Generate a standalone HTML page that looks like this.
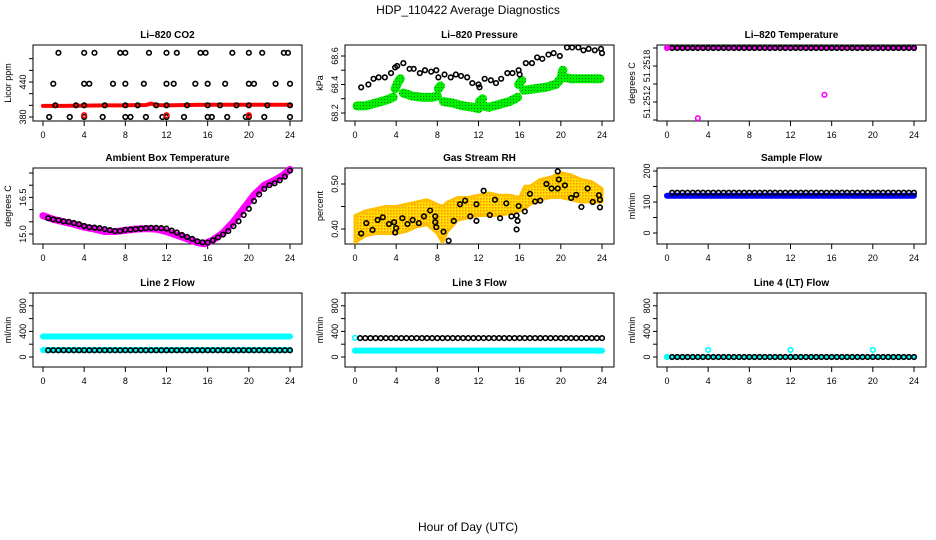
<!DOCTYPE html>
<html><head><meta charset="utf-8">
<style>
body{margin:0;background:#fff;}
svg{display:block;font-family:"Liberation Sans",sans-serif;}
</style></head>
<body>
<svg id="chart" width="936" height="540" viewBox="0 0 936 540">
<defs>
<pattern id="rhpat" width="3" height="3" patternUnits="userSpaceOnUse"><rect width="3" height="3" fill="#ffe000"/><rect width="1.5" height="1.5" fill="#ff8c00"/></pattern>
<pattern id="grpat" width="3" height="3" patternUnits="userSpaceOnUse"><rect width="3" height="3" fill="#00ee00"/><rect width="1" height="1" fill="#008000"/></pattern>
</defs>
<text x="468" y="14" text-anchor="middle" font-size="12">HDP_110422  Average Diagnostics</text>
<text x="468" y="531" text-anchor="middle" font-size="12">Hour of Day (UTC)</text>
</svg>
<script>
// ---------- data ----------
const halfHours = [];
for (let i = 1; i <= 48; i++) halfHours.push(i * 0.5);
const xTicks = [0,4,8,12,16,20,24];

const co2Hours = [1.5,4,5,7.5,8,10.3,12,13,15.3,15.8,18.4,20,21.3,23.4,23.8, 1,4,4.5,6.8,8,9.8,12,12.7,14.8,16,17.7,20,20.5,22.6,24, 1.2,3.2,4,6,8,9.2,11,12,14,16,17.2,18.8,20,21.8,24, 0.6,2.6,4,5.8,8,8.5,10,11.6,12,13.7,16,16.4,17.9,19.7,20,21.5,24];
const co2Values = [490,490,490,490,490,490,490,490,490,490,490,490,490,490,490, 437,437,437,437,437,437,437,437,437,437,437,437,437,437,437, 400,400,400,400,400,400,400,400,400,400,400,400,400,400,400, 380,380,380,380,380,380,380,380,380,380,380,380,380,380,380,380,380];
const co2RedHours = [0,2,4,6,8,10,10.5,11,12,14,16,18,20,22,24];
const co2RedValues = [399,399,399.5,400,400,400.5,403,400.5,400,400.5,401,401,401,401,401];
const co2RedPtHours = [4,12,20];
const co2RedPtValues = [383,383,383];

const presHours = [0.6,1.3,1.8,2.3,2.9,3.5,3.9,4.1,4.7,5.3,5.7,6.3,6.8,7.4,7.9,8.1,8.7,9.3,9.8,10.3,10.9,11.4,12,12.1,12.6,13.2,13.7,14.2,14.8,15.3,15.9,16,16.6,17.2,17.7,18.2,18.8,19.3,19.9,20.6,21.1,21.7,22.2,22.7,23.3,23.9,24];
const presValues = [68.38,68.40,68.44,68.45,68.45,68.48,68.52,68.53,68.55,68.51,68.51,68.48,68.50,68.49,68.50,68.45,68.47,68.45,68.47,68.46,68.45,68.41,68.40,68.38,68.44,68.43,68.41,68.44,68.48,68.48,68.50,68.47,68.55,68.55,68.59,68.58,68.61,68.62,68.60,68.66,68.66,68.66,68.64,68.65,68.64,68.65,68.62];
const presGreenHours = [0.2,1,2,3,3.7,null,3.9,4.2,4.4,null,4.7,5.5,6.5,7.5,8,null,8.1,8.3,null,8.6,9.5,10.5,11.5,12,null,12.1,12.4,null,12.5,13,14,15,15.8,null,15.9,16.2,null,16.4,17.5,18.5,19.5,20,20.2,null,20.4,21,22,23,23.8];
const presGreenValues = [68.25,68.25,68.27,68.29,68.31,null,68.37,68.42,68.44,null,68.34,68.32,68.31,68.31,68.32,null,68.37,68.39,null,68.28,68.27,68.25,68.24,68.23,null,68.28,68.30,null,68.25,68.24,68.26,68.28,68.31,null,68.40,68.43,null,68.36,68.37,68.38,68.40,68.44,68.50,null,68.45,68.44,68.44,68.44,68.44];

const tempBlackValue = 51.2518;
const tempMagentaHours = [0,24];
const tempMagentaValues = [51.2518,51.2518];
const tempOutlierHours = [3,15.3];
const tempOutlierValues = [51.25102,51.25128];

const boxHours = [0,1,2,3,4,5,6,7,8,9,10,11,12,13,14,15,15.7,16.5,17.5,18.5,19.5,20.5,21.5,22.5,23.3,24];
const boxValues = [15.75,15.6,15.5,15.4,15.28,15.2,15.1,15.1,15.15,15.2,15.22,15.2,15.1,14.95,14.8,14.65,14.6,14.75,15.05,15.5,16.05,16.6,17.0,17.2,17.4,17.65];
const boxBlack = [15.65,15.6,15.57,15.52,15.5,15.45,15.4,15.33,15.28,15.26,15.24,15.2,15.16,15.12,15.12,15.17,15.18,15.2,15.22,15.24,15.25,15.25,15.24,15.22,15.14,15.06,14.96,14.88,14.8,14.7,14.66,14.65,14.74,14.86,14.98,15.12,15.32,15.52,15.78,16.03,16.35,16.62,16.85,17.0,17.08,17.2,17.35,17.6];

const rhBandHours = [0,1,2,3,4,5,6,7,8,8.5,9,10,11,12,13,14,15,16,16.5,17,18,19,20,21,22,23,24];
const rhBandLow = [0.37,0.385,0.39,0.39,0.39,0.395,0.405,0.41,0.39,0.37,0.395,0.42,0.425,0.43,0.43,0.43,0.435,0.44,0.445,0.455,0.465,0.47,0.47,0.465,0.46,0.46,0.46];
const rhBandHigh = [0.43,0.44,0.445,0.45,0.45,0.455,0.46,0.465,0.455,0.45,0.46,0.47,0.47,0.475,0.48,0.475,0.475,0.47,0.495,0.495,0.51,0.515,0.525,0.52,0.51,0.505,0.49];
const rhHours = [0.6,1.1,1.7,2.2,2.7,3.3,3.8,3.9,4,4.6,5.1,5.6,6.2,6.7,7.3,7.8,7.8,7.9,8.6,9.1,9.6,10.2,10.7,11.2,11.8,11.8,12.5,13.1,13.6,14.1,14.7,15.2,15.7,15.8,15.7,15.9,16.5,17,17.5,18,18.6,19.1,19.7,19.8,19.7,20.4,21,21.5,22,22.6,23.1,23.7,23.8,23.8];
const rhValues = [0.39,0.413,0.398,0.42,0.426,0.411,0.415,0.392,0.402,0.424,0.411,0.42,0.413,0.428,0.441,0.428,0.415,0.404,0.394,0.374,0.418,0.455,0.463,0.428,0.455,0.418,0.485,0.431,0.465,0.424,0.457,0.428,0.43,0.418,0.399,0.451,0.439,0.478,0.461,0.463,0.5,0.49,0.528,0.51,0.49,0.497,0.469,0.476,0.449,0.49,0.46,0.475,0.465,0.448];

const sampleBlack = 130, sampleBlue = 120;
const line2Cyan = [320,110], line2Black = 105;
const line3Black = 295, line3Cyan = 100, line3CyanPt = 300;
const line4Black = 0, line4Cyan = 0;
const line4CyanPtHours = [4,12,20];
const line4CyanPtValues = [110,110,110];

// ---------- helpers ----------
const svg = document.getElementById('chart');
const NS = 'http://www.w3.org/2000/svg';
function mk(tag, attrs, parent){const e=document.createElementNS(NS,tag);for(const k in attrs)e.setAttribute(k,attrs[k]);(parent||svg).appendChild(e);return e;}
const rowsTop=[45,168,293], rowsBot=[121,244,367];

function makePanel(col,row,title,ylab,v0,y0,v1,y1,yTicks,yLabels,name){
  const g=mk('g',{});
  
  
  const L=33+312*col,R=302+312*col,T=rowsTop[row],B=rowsBot[row];
  const xs=h=>43+312*col+h*(247/24);
  const ys=v=>y0+(v-v0)*(y1-y0)/(v1-v0);
  const box=mk('rect',{x:L,y:T,width:R-L,height:B-T,fill:'none',stroke:'#000','stroke-width':1},g);
  
  
  const t=mk('text',{x:(L+R)/2,y:T-7,'text-anchor':'middle','font-size':10,'font-weight':'bold'},g);
  t.textContent=title;
  
  
  const yl=mk('text',{x:0,y:0,'text-anchor':'middle','font-size':9,transform:`translate(${L-22},${(T+B)/2}) rotate(-90)`},g);
  yl.textContent=ylab;
  
  
  mk('line',{x1:xs(0),x2:xs(24),y1:B,y2:B,stroke:'#000'},g);
  xTicks.forEach(h=>{
    mk('line',{x1:xs(h),x2:xs(h),y1:B,y2:B+5,stroke:'#000'},g);
    const tl=mk('text',{x:xs(h),y:B+17,'text-anchor':'middle','font-size':9},g);
    tl.textContent=h;
    
    
  });
  yTicks.forEach((v,i)=>{
    mk('line',{x1:L-4,x2:L,y1:ys(v),y2:ys(v),stroke:'#000'},g);
    if(yLabels[i]!==''){
      const tl=mk('text',{x:0,y:0,'text-anchor':'middle','font-size':9,transform:`translate(${L-7},${ys(v)}) rotate(-90)`},g);
      tl.textContent=yLabels[i];
      
      
    }
  });
  return {g,xs,ys};
}
function circ(p,h,v,color,nm,r){
  const c=mk('circle',{cx:p.xs(h),cy:p.ys(v),r:r||2.3,fill:'none',stroke:color,'stroke-width':1.6},p.g);
  
  
  return c;
}
function band(p,hs,vs,color,w,nm){
  let d='',pen=false;
  hs.forEach((h,i)=>{ if(h===null){pen=false;return;} d+=(pen?'L':'M')+p.xs(h)+' '+p.ys(vs[i])+' '; pen=true; });
  const e=mk('path',{d,fill:'none',stroke:color,'stroke-width':w,'stroke-linecap':'round','stroke-linejoin':'round'},p.g);
  
  
  return e;
}

// Panel 1: CO2
let p=makePanel(0,0,'Li\u2013820 CO2','Licor ppm',380,117,440,82,[380,400,420,440,460,480],['380','','','440','','']);
band(p,co2RedHours,co2RedValues,'#ff0000',4,'co2-red-series');
co2Hours.forEach((h,i)=>circ(p,h,co2Values[i],'#000','co2-point'));
co2RedPtHours.forEach((h,i)=>circ(p,h,co2RedPtValues[i],'#ff0000','co2-red-point'));

// Panel 2: Pressure
p=makePanel(1,0,'Li\u2013820 Pressure','kPa',68.2,113,68.6,56,[68.2,68.3,68.4,68.5,68.6],['68.2','','68.4','','68.6']);
band(p,presGreenHours,presGreenValues,'url(#grpat)',9,'pressure-green-series');
presHours.forEach((h,i)=>circ(p,h,presValues[i],'#000','pressure-point'));

// Panel 3: Temperature
p=makePanel(2,0,'Li\u2013820 Temperature','degrees C',51.2510,120,51.2518,48,[51.2510,51.2512,51.2514,51.2516,51.2518],['','51.2512','','51.2518','']);
band(p,tempMagentaHours,tempMagentaValues,'#ff00ff',4,'temperature-magenta-series');
halfHours.forEach(h=>circ(p,h,tempBlackValue,'#000','temperature-point'));
circ(p,0,tempBlackValue,'#ff00ff','temperature-magenta-point');
tempOutlierHours.forEach((h,i)=>circ(p,h,tempOutlierValues[i],'#ff00ff','temperature-outlier'));

// Panel 4: Ambient box temperature
p=makePanel(0,1,'Ambient Box Temperature','degrees C',15.0,234,16.5,197.4,[15.0,15.5,16.0,16.5,17.0,17.5],['15.0','','','16.5','','']);
band(p,boxHours,boxValues,'#ff00ff',7,'ambient-magenta-series');
halfHours.forEach((h,i)=>circ(p,h,boxBlack[i],'#000','ambient-point'));

// Panel 5: Gas stream RH
p=makePanel(1,1,'Gas Stream RH','percent',0.40,229,0.50,184,[0.40,0.45,0.50],['0.40','','0.50']);
{
  let d='';
  rhBandHours.forEach((h,i)=>{d+=(i?'L':'M')+p.xs(h)+' '+p.ys(rhBandHigh[i])+' ';});
  for(let i=rhBandHours.length-1;i>=0;i--) d+='L'+p.xs(rhBandHours[i])+' '+p.ys(rhBandLow[i])+' ';
  const e=mk('path',{d:d+'Z',fill:'url(#rhpat)',stroke:'#ffc000','stroke-width':3,'stroke-linejoin':'round'},p.g);
  
  
}
rhHours.forEach((h,i)=>circ(p,h,rhValues[i],'#000','rh-point'));

// Panel 6: Sample flow
p=makePanel(2,1,'Sample Flow','ml/min',0,233,200,171,[0,50,100,150,200],['0','','100','','200']);
band(p,[0,24],[sampleBlue,sampleBlue],'#0000ff',6,'sample-blue-series');
halfHours.forEach(h=>circ(p,h,sampleBlack,'#000','sample-point'));

// Panel 7: Line 2 flow
p=makePanel(0,2,'Line 2 Flow','ml/min',0,357,800,305.8,[0,200,400,600,800,1000],['0','','400','','800','']);
line2Cyan.forEach(v=>band(p,[0,24],[v,v],'#00ffff',6,'line2-cyan-series'));
halfHours.forEach(h=>circ(p,h,line2Black,'#000','line2-point'));

// Panel 8: Line 3 flow
p=makePanel(1,2,'Line 3 Flow','ml/min',0,357,800,305.8,[0,200,400,600,800,1000],['0','','400','','800','']);
band(p,[0,24],[line3Cyan,line3Cyan],'#00ffff',6,'line3-cyan-series');
circ(p,0,line3CyanPt,'#00ffff','line3-cyan-point');
halfHours.forEach(h=>circ(p,h,line3Black,'#000','line3-point'));

// Panel 9: Line 4 flow
p=makePanel(2,2,'Line 4 (LT) Flow','ml/min',0,357,800,305.8,[0,200,400,600,800,1000],['0','','400','','800','']);
band(p,[0,24],[line4Cyan,line4Cyan],'#00ffff',3,'line4-cyan-series');
circ(p,0,line4Cyan,'#00ffff','line4-cyan-start');
halfHours.forEach(h=>circ(p,h,line4Black,'#000','line4-point'));
line4CyanPtHours.forEach((h,i)=>circ(p,h,line4CyanPtValues[i],'#00ffff','line4-cyan-point'));
</script>
</body></html>
